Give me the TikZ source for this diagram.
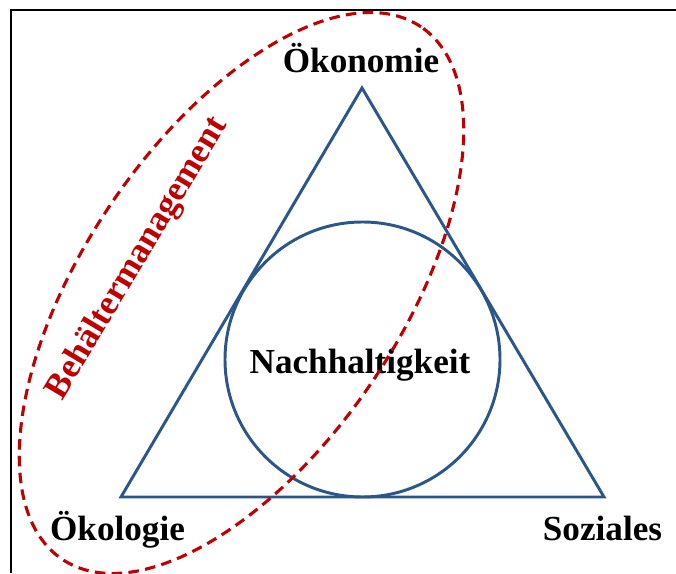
\documentclass[tikz,border=0pt]{standalone}
\usepackage{fontspec}
\setmainfont{Liberation Serif}
\usetikzlibrary{calc}
\definecolor{triblue}{RGB}{44,86,138}
\definecolor{dashred}{RGB}{192,0,0}
\begin{document}
\begin{tikzpicture}[x=0.025cm, y=0.025cm]
	\tikzstyle{frame}=[line width=1.5pt, black]
	\tikzstyle{pillar}=[line width=2.1pt, draw=triblue]
	\tikzstyle{termtext}=[font=\fontsize{25}{30}\selectfont\bfseries, anchor=base, inner sep=0pt]
	\tikzstyle{boundary}=[line width=2.2pt, draw=dashred, dash pattern=on 7.5pt off 4.5pt]
	\def\rad{137.5};
	\def\tilt{56};

	\useasboundingbox (0,0) rectangle (676,573);

	\begin{scope}
		\draw [frame] (11,0) -- (11,563) -- (676,563);
	\end{scope}

	\begin{scope}
		\coordinate (econ) at (362,485);
		\coordinate (ecol) at (121,76);
		\coordinate (soc) at (604,76);
		\coordinate (core) at ($ (ecol)!0.5!(soc) + (0,\rad) $);
		\draw [pillar] (econ) -- (ecol) -- (soc) -- cycle;
		\draw [pillar] (core) circle (\rad);
	\end{scope}

	\begin{scope}
		\node [termtext] (econlabel) at ($ (econ) + (-1,15) $) {Ökonomie};
		\node [termtext] (ecollabel) at ($ (ecol) + (-3.5,-43) $) {Ökologie};
		\node [termtext] (soclabel) at ($ (soc) + (-1.5,-43) $) {Soziales};
		\node [termtext] (corelabel) at ($ (core) + (-2.5,-13.5) $) {Nachhaltigkeit};
	\end{scope}

	\begin{scope}
		\node [termtext, text=dashred, rotate=59] (mgmt) at (145,310) {Behältermanagement};
		\draw [boundary, rotate around={\tilt:(241.5,280)}] (241.5,280) ellipse [x radius=321, y radius=158];
	\end{scope}
\end{tikzpicture}
\end{document}
